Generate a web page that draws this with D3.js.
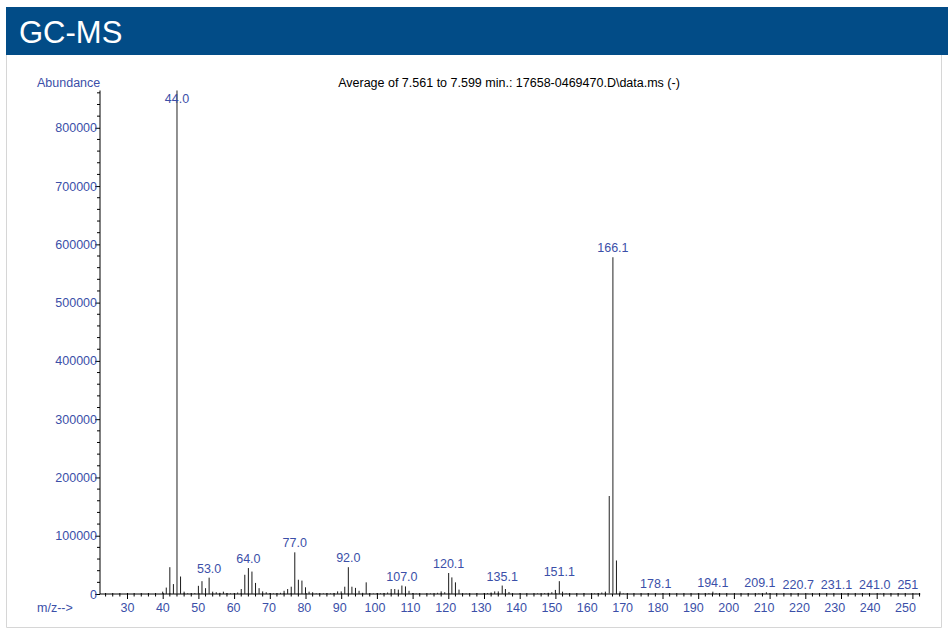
<!DOCTYPE html>
<html>
<head>
<meta charset="utf-8">
<script src="https://cdn.jsdelivr.net/npm/d3@7/dist/d3.min.js"></script>
<style>
  html, body { margin: 0; padding: 0; background: #ffffff; }
  svg { display: block; font-family: "Liberation Sans", Arial, sans-serif; }
</style>
</head>
<body>
<svg id="chart" width="948" height="632"></svg>
<script>
// Averaged mass spectrum: m/z values and their abundances
const mzValues = [
  40, 41, 42, 43, 44.0, 45, 46, 47, 48, 49,
  50, 51, 52, 53.0, 54, 55, 56, 57, 58, 59,
  60, 61, 62, 63, 64.0, 65, 66, 67, 68, 69,
  70, 71, 72, 73, 74, 75, 76, 77.0, 78, 79,
  80, 81, 82, 83, 84, 85, 86, 87, 88, 89,
  90, 91, 92.0, 93, 94, 95, 96, 97, 98, 99,
  100, 101, 102, 103, 104, 105, 106, 107.0, 108, 109,
  110, 111, 115, 117, 118, 119, 120.1, 121, 122, 123,
  124, 125, 128, 130, 131, 132, 133, 134, 135.1, 136,
  137, 138, 140, 145, 147, 148, 149, 150, 151.1, 152,
  153, 158, 161, 162, 163, 164, 165.1, 166.1, 167.1, 168.1,
  169, 176, 178.1, 180, 190, 192, 193, 194.1, 195, 207,
  208, 209.1, 210, 220.7, 231.1, 241.0, 251
];
const abundances = [
  4000, 11000, 46000, 17000, 864000, 30000, 4000, 1200, 800, 1500,
  14000, 22000, 10000, 28000, 4000, 3000, 2000, 4000, 1500, 1000,
  1200, 2500, 8500, 33000, 44500, 38500, 19000, 10000, 4500, 3000,
  1500, 1000, 1200, 2000, 5500, 8500, 12500, 71500, 24500, 23000,
  11500, 4000, 3000, 1000, 800, 1000, 1200, 1000, 1500, 4500,
  4500, 12500, 46000, 12500, 10500, 5500, 2000, 20000, 1000, 800,
  1000, 1200, 1500, 2500, 8500, 8500, 7500, 14500, 13000, 5500,
  1500, 800, 1000, 2000, 4500, 3000, 36000, 28500, 20000, 7500,
  1500, 800, 1000, 1200, 1500, 2500, 4500, 4500, 14500, 8500,
  3500, 1200, 800, 1000, 1500, 2000, 3000, 7000, 22000, 4000,
  1000, 800, 1000, 1500, 2500, 4000, 168000, 578000, 57500, 4500,
  1000, 800, 1500, 700, 800, 1200, 1500, 4000, 1200, 1200,
  1500, 3000, 800, 600, 600, 500, 500
];

// Peaks that carry an m/z annotation
const labelledMz = [44.0, 53.0, 64.0, 77.0, 92.0, 107.0, 120.1, 135.1, 151.1, 166.1,
                    178.1, 194.1, 209.1, 220.7, 231.1, 241.0, 251];
const labelTexts = ["44.0", "53.0", "64.0", "77.0", "92.0", "107.0", "120.1", "135.1", "151.1", "166.1",
                    "178.1", "194.1", "209.1", "220.7", "231.1", "241.0", "251"];

// Axis ticks
const xMajorTicks = [30, 40, 50, 60, 70, 80, 90, 100, 110, 120, 130, 140, 150, 160, 170, 180, 190, 200, 210, 220, 230, 240, 250];
const yMajorTicks = [0, 100000, 200000, 300000, 400000, 500000, 600000, 700000, 800000];

const headerTitle = "GC-MS";
const plotTitle = "Average of 7.561 to 7.599 min.: 17658-0469470.D\\data.ms (-)";
const yAxisTitle = "Abundance";
const xAxisTitle = "m/z-->";

const BLUE = "#3b4fa8";
const FS = 12.5;
const svg = d3.select("#chart");

// Header band
svg.append("rect").attr("x", 6).attr("y", 7).attr("width", 942).attr("height", 48).attr("fill", "#024c87");
svg.append("text").attr("x", 19).attr("y", 43).attr("fill", "#ffffff")
  .attr("font-size", 31).text(headerTitle);

// Panel frame
svg.append("path")
  .attr("d", "M6.5,55 V627.5 H941.5 V55")
  .attr("fill", "none").attr("stroke", "#d6d6d6").attr("stroke-width", 1);

// Scales: sticks and ticks use x, tick captions use the slightly tighter xText
const xMax = 252.2;
const x = d3.scaleLinear().domain([30, 250]).range([127, 912.4]);
const xText = d3.scaleLinear().domain([30, 250]).range([127, 905]);
const y = d3.scaleLinear().domain([0, 864000]).range([594, 90.5]);
const x0 = 100, x1 = x(xMax), yBase = y(0);

// Minor x ticks every 2 units
const xMinor = d3.range(24, 253, 2).filter(v => v % 10 !== 0);
svg.append("g").selectAll("line").data(xMinor).join("line")
  .attr("x1", d => x(d)).attr("x2", d => x(d))
  .attr("y1", yBase - 1).attr("y2", yBase + 2.5)
  .attr("stroke", "#000").attr("stroke-width", 1);

// Major x axis
const xAxis = d3.axisBottom(x).tickValues(xMajorTicks).tickSize(5).tickSizeOuter(0).tickFormat(d3.format("d"));
const gx = svg.append("g").attr("transform", `translate(0,${yBase})`).call(xAxis);
gx.select(".domain").remove();
gx.selectAll(".tick line").attr("stroke", "#000").attr("y1", -1);
gx.selectAll(".tick text").attr("fill", BLUE).attr("font-size", FS)
  .attr("font-family", "Liberation Sans, Arial, sans-serif").attr("dy", "0.71em").attr("y", 9)
  .attr("x", d => xText(d) - x(d));

// Minor y ticks every 20000
const yMinor = d3.range(20000, 864000, 20000).filter(v => v % 100000 !== 0);
svg.append("g").selectAll("line").data(yMinor).join("line")
  .attr("x1", x0 - 3).attr("x2", x0)
  .attr("y1", d => y(d)).attr("y2", d => y(d))
  .attr("stroke", "#000").attr("stroke-width", 1);

// Major y axis
const yAxis = d3.axisLeft(y).tickValues(yMajorTicks).tickSize(5).tickSizeOuter(0).tickFormat(d3.format("d"));
const gy = svg.append("g").attr("transform", `translate(${x0},0)`).call(yAxis);
gy.select(".domain").remove();
gy.selectAll(".tick line").attr("stroke", "#000");
gy.selectAll(".tick text").attr("fill", BLUE).attr("font-size", FS)
  .attr("font-family", "Liberation Sans, Arial, sans-serif").attr("x", -3);

// Axis lines
svg.append("line").attr("x1", x0).attr("x2", x1).attr("y1", yBase).attr("y2", yBase)
  .attr("stroke", "#000").attr("stroke-width", 1);
svg.append("line").attr("x1", x0).attr("x2", x0).attr("y1", yBase).attr("y2", y(864000))
  .attr("stroke", "#000").attr("stroke-width", 1);

// Spectrum sticks
const peaks = mzValues.map((m, i) => ({ mz: m, ab: abundances[i] }));
svg.append("g").selectAll("line").data(peaks).join("line")
  .attr("x1", d => x(d.mz)).attr("x2", d => x(d.mz))
  .attr("y1", yBase).attr("y2", d => y(d.ab))
  .attr("stroke", d => d.ab > 100000 ? "#555" : "#1a1a1a").attr("stroke-width", d => d.ab > 100000 ? 1.3 : 1);

// Peak annotations
const labels = labelledMz.map((m, i) => {
  const idx = mzValues.indexOf(m);
  return { mz: m, ab: abundances[idx], text: labelTexts[i] };
});
const lg = svg.append("g");
const labelNodes = lg.selectAll("text").data(labels).join("text")
  .attr("x", d => x(d.mz))
  .attr("y", d => Math.max(y(d.ab) - 5, y(864000) + 12.5))
  .attr("text-anchor", "middle")
  .attr("fill", BLUE).attr("font-size", FS)
  .text(d => d.text);

// Keep captions inside the axis and apart from each other (sweep from the right)
const nodes = labelNodes.nodes();
let limit = x1 - 2;
for (let i = nodes.length - 1; i >= 0; i--) {
  const n = nodes[i];
  const w = n.getComputedTextLength();
  let cx = +n.getAttribute("x");
  if (cx + w / 2 > limit) cx = limit - w / 2;
  n.setAttribute("x", cx);
  limit = cx - w / 2 - 7;
}

// Titles
svg.append("text").attr("x", 509).attr("y", 87).attr("text-anchor", "middle")
  .attr("fill", "#000").attr("font-size", FS).text(plotTitle);
svg.append("text").attr("x", 37).attr("y", 87).attr("fill", BLUE).attr("font-size", FS).text(yAxisTitle);
svg.append("text").attr("x", 37).attr("y", 612).attr("fill", BLUE).attr("font-size", FS).text(xAxisTitle);
</script>
</body>
</html>
